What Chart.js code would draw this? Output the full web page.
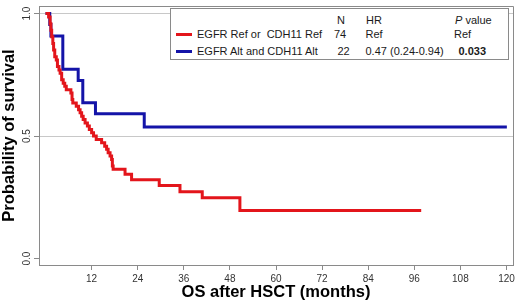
<!DOCTYPE html>
<html><head><meta charset="utf-8">
<script src="https://cdn.jsdelivr.net/npm/chart.js@4.4.1/dist/chart.umd.min.js"></script>
<style>
html,body{margin:0;padding:0;background:#fff;}
#wrap{position:relative;width:520px;height:308px;overflow:hidden;}
#c{position:absolute;left:0;top:0;}
.lg{position:absolute;white-space:pre;line-height:11px;font-family:"Liberation Sans",Arial,sans-serif;font-size:11px;color:#1a1a1a;}
#box{position:absolute;left:170px;top:8px;width:339px;height:52px;box-sizing:border-box;border:1px solid #8a8a8a;background:#fff;}
.sw{position:absolute;height:3px;width:16px;left:176px;}
</style>
</head><body>
<div id="wrap"><canvas id="c" width="520" height="308"></canvas><div id="box"></div></div>
<script>
// ---- data ----
const seriesLabels = ["EGFR Ref or  CDH11 Ref", "EGFR Alt and CDH11 Alt"];
const seriesN = ["74", "22"];
const seriesHR = ["Ref", "0.47 (0.24-0.94)"];
const seriesP = ["Ref", "0.033"];
const headerN = "N", headerHR = "HR";

const redTimes = [0, 0.8, 1.2, 1.4, 1.6, 1.9, 2.1, 2.4, 2.8, 3.1, 3.5, 3.8, 4.2, 4.6, 5.0, 5.4, 6.6, 6.9, 7.1, 8.0, 8.6, 9.0, 9.4, 9.8, 10.3, 10.9, 11.4, 12.0, 12.5, 13.2, 14.6, 15.4, 15.9, 16.3, 16.8, 17.2, 17.4, 17.6, 20.7, 22.4, 29.6, 35.0, 40.8, 50.6, 97.8];
const redSurv = [1.0, 0.986, 0.959, 0.932, 0.905, 0.878, 0.851, 0.824, 0.811, 0.784, 0.770, 0.757, 0.730, 0.716, 0.703, 0.689, 0.676, 0.649, 0.635, 0.622, 0.608, 0.595, 0.581, 0.568, 0.554, 0.541, 0.527, 0.514, 0.500, 0.486, 0.473, 0.459, 0.446, 0.432, 0.419, 0.405, 0.378, 0.365, 0.344, 0.322, 0.298, 0.273, 0.248, 0.196, 0.196];
const blueTimes = [0, 1.1, 1.4, 4.5, 8.5, 9.7, 13.0, 25.7, 120.1];
const blueSurv = [1.0, 0.955, 0.909, 0.773, 0.727, 0.636, 0.591, 0.537, 0.537];

const xTickVals = [12, 24, 36, 48, 60, 72, 84, 96, 108, 120];
const yTickVals = [0, 0.5, 1];
const xTitle = "OS after HSCT (months)";
const yTitle = "Probability of survival";

// ---- styles ----
const colors = ["#e3151b", "#1414a8"];
const axisGray = "#8a8a8a";
const FONT = "'Liberation Sans', Arial, sans-serif";

function pts(t, s){ return t.map((v,i)=>({x:v, y:s[i]})); }

const frame = {
  id:'frame',
  beforeDatasetsDraw(chart){
    const {ctx, chartArea:a} = chart;
    ctx.save();
    ctx.strokeStyle = axisGray; ctx.lineWidth = 1;
    ctx.beginPath();
    ctx.moveTo(a.left, Math.round(a.top)+0.5);
    ctx.lineTo(Math.round(a.right)+0.5, Math.round(a.top)+0.5);
    ctx.lineTo(Math.round(a.right)+0.5, a.bottom);
    ctx.stroke();
    ctx.restore();
  }
};

const chart = new Chart(document.getElementById('c'), {
  type:'line',
  data:{datasets:[
    {label:seriesLabels[0], data:pts(redTimes, redSurv), borderColor:colors[0], borderWidth:3, stepped:true, pointRadius:0, fill:false, borderJoinStyle:'miter', borderCapStyle:'butt'},
    {label:seriesLabels[1], data:pts(blueTimes, blueSurv), borderColor:colors[1], borderWidth:3, stepped:true, pointRadius:0, fill:false, borderJoinStyle:'miter', borderCapStyle:'butt'}
  ]},
  options:{
    responsive:false, animation:false, devicePixelRatio:1,
    layout:{padding:{top:4, right:7, left:0, bottom:0}},
    plugins:{legend:{display:false}, tooltip:{enabled:false}},
    scales:{
      x:{type:'linear', min:-1.7, max:121.7,
        afterBuildTicks(s){ s.ticks = xTickVals.map(v=>({value:v})); },
        afterFit(s){ s.height = 43; },
        ticks:{font:{family:FONT, size:10}, color:'#333', padding:3, maxRotation:0, autoSkip:false},
        grid:{drawOnChartArea:false, tickLength:5, tickColor:axisGray, tickWidth:1},
        border:{color:axisGray, width:1},
        title:{display:true, text:xTitle, color:'#000', font:{family:FONT, size:16.5, weight:'bold'}, padding:{top:0, bottom:6}}
      },
      y:{type:'linear', min:-0.026, max:1.031,
        afterBuildTicks(s){ s.ticks = yTickVals.map(v=>({value:v})); },
        afterFit(s){ s.width = 39; },
        ticks:{font:{family:FONT, size:10}, color:'#333', padding:0, minRotation:90, maxRotation:90, crossAlign:'center', autoSkip:false,
          callback:v=>v.toFixed(1)},
        grid:{color:c=> (c.tick && c.tick.value===0) ? 'rgba(0,0,0,0)' : '#c8c8c8', tickLength:5, tickColor:axisGray, lineWidth:1},
        border:{color:axisGray, width:1},
        title:{display:true, text:yTitle, color:'#000', font:{family:FONT, size:16.5, weight:'bold'}, padding:{top:0, bottom:0}}
      }
    }
  },
  plugins:[frame]
});

// ---- legend (HTML text) ----
const wrap = document.getElementById('wrap');
function span(txt, left, centerY, extra){
  const e = document.createElement('span');
  e.className = 'lg'; e.textContent = txt;
  e.style.left = left + 'px'; e.style.top = (centerY - 5.4) + 'px';
  if (extra) Object.assign(e.style, extra);
  wrap.appendChild(e); return e;
}
const rowY = [34.5, 51.2];
const headY = 20;
span(headerN, 337, headY);
span(headerHR, 366, headY);
const ph = span('', 455, headY);
const pi = document.createElement('i'); pi.textContent = 'P'; ph.appendChild(pi);
ph.appendChild(document.createTextNode(' value'));
const nX = [334, 337.5];
const pX = [454, 458.5];
for (let i=0;i<2;i++){
  const sw = document.createElement('div');
  sw.className = 'sw'; sw.style.background = colors[i]; sw.style.top = (rowY[i]-1.5) + 'px';
  wrap.appendChild(sw);
  span(seriesLabels[i], 197, rowY[i]);
  span(seriesN[i], nX[i], rowY[i]);
  span(seriesHR[i], 365.5, rowY[i]);
  span(seriesP[i], pX[i], rowY[i], i===1 ? {fontWeight:'bold'} : null);
}
</script>
</body></html>
